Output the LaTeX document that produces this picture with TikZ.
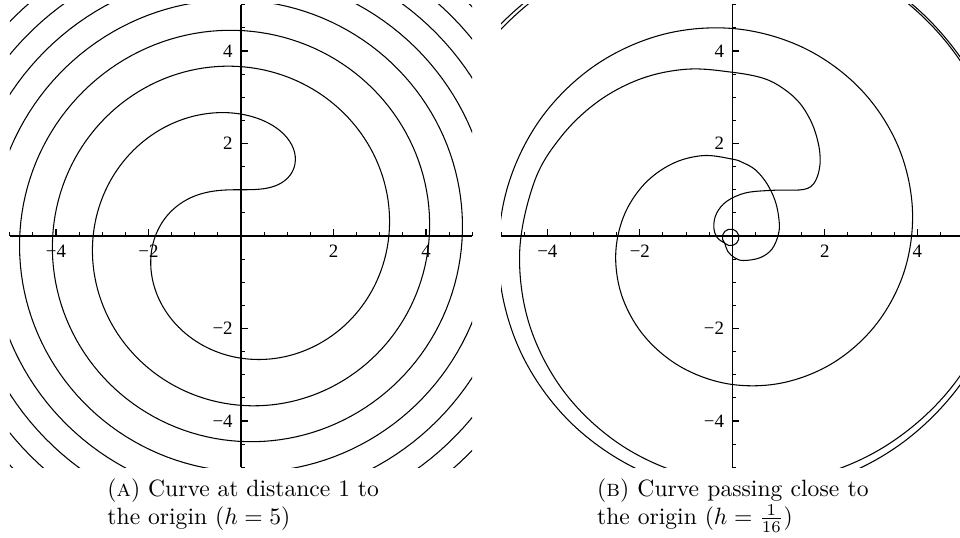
\documentclass[tikz,border=0pt]{standalone}
\usepackage{tikz}
\usepackage{fontspec}
\newfontfamily\tickfont{Liberation Serif}
\ExplSyntaxOn
\fp_new:N \l_sp_x_fp
\fp_new:N \l_sp_y_fp
\fp_new:N \l_sp_mx_fp
\fp_new:N \l_sp_my_fp
\fp_new:N \l_sp_h_fp
\fp_new:N \l_sp_p_fp
\fp_new:N \l_sp_rr_fp
\tl_new:N \l_sp_path_tl
\cs_new_protected:Npn \sp_run:nn #1 #2
  {
    \fp_set:Nn \l_sp_x_fp {0}
    \fp_set:Nn \l_sp_y_fp {1}
    \fp_set:Nn \l_sp_rr_fp {1}
    \tl_set:Nn \l_sp_path_tl { (0,1) }
    \bool_do_while:nn { \fp_compare_p:nNn \l_sp_rr_fp < {52} }
      {
        \fp_set:Nn \l_sp_h_fp { #1 * min(0.25, max(0.04, 0.04*sqrt(\l_sp_rr_fp))) }
        \fp_set:Nn \l_sp_p_fp { (\l_sp_rr_fp - 1)/2 }
        \fp_set:Nn \l_sp_mx_fp { \l_sp_x_fp + 0.5*\l_sp_h_fp*cos(\l_sp_p_fp) }
        \fp_set:Nn \l_sp_my_fp { \l_sp_y_fp + 0.5*\l_sp_h_fp*sin(\l_sp_p_fp) }
        \fp_set:Nn \l_sp_p_fp { (\l_sp_mx_fp^2 + \l_sp_my_fp^2 - 1)/2 }
        \fp_add:Nn \l_sp_x_fp { \l_sp_h_fp*cos(\l_sp_p_fp) }
        \fp_add:Nn \l_sp_y_fp { \l_sp_h_fp*sin(\l_sp_p_fp) }
        \fp_set:Nn \l_sp_rr_fp { \l_sp_x_fp^2 + \l_sp_y_fp^2 }
        \tl_put_right:Nx \l_sp_path_tl
          { (\fp_eval:n {round(\l_sp_x_fp,4)},\fp_eval:n {round(\l_sp_y_fp,4)}) }
      }
    \tl_gclear_new:c { g_sp_#2_tl }
    \tl_gset_eq:cN { g_sp_#2_tl } \l_sp_path_tl
  }
\cs_new_protected:Npn \sp_draw:n #1
  {
    \use:x { \exp_not:N \draw [curve] ~ plot ~ coordinates ~ { \exp_not:v { g_sp_#1_tl } } ; }
  }
\NewDocumentCommand{\SpiralRun}{mm}{ \sp_run:nn {#1} {#2} }
\NewDocumentCommand{\SpiralDraw}{m}{ \sp_draw:n {#1} }
\ExplSyntaxOff
\SpiralRun{1}{A}
\SpiralRun{-1}{B}

\tikzset{
  curve/.style={line width=0.45pt, line join=round},
  axis/.style={line width=0.45pt},
  ticklab/.style={inner sep=0pt, font=\tickfont\fontsize{8}{9.6}\selectfont},
  captext/.style={inner sep=0pt, text width=115pt, align=justify, anchor=north west,
    font=\fontsize{10}{12}\selectfont}
}
\newcommand\PlotAxes[1]{%
  \draw[axis] (-5,0) -- (5,0);
  \draw[axis] (0,-5) -- (0,5);
  \foreach \i in {-10,...,10}{
    \pgfmathtruncatemacro\m{mod(abs(\i),4)==0 ? 1 : 0}
    \ifnum\m=1 \def\len{0.145}\else\def\len{0.08}\fi
    \draw[axis] (\i/2,0) -- ++(0,\len);
    \draw[axis] (0,\i/2) -- ++(\len,0);
  }
  \foreach \v/\t/\k in {-4/−4/1,-2/−2/2,2/2/3,4/4/4}{
    \node[ticklab, anchor=north] (#1x\k) at (\v,-0.195) {\t};
    \node[ticklab, anchor=east] (#1y\k) at (-0.17,\v) {\t};
  }
}
\begin{document}
\begin{tikzpicture}[x=0.4237pt,y=0.4237pt]
\useasboundingbox (0,0) rectangle (960,538);
% ---------- left plot ----------
\begin{scope}[shift={(241,302)}, x=19.596pt, y=19.596pt]
  \begin{scope}
    \clip (-5,-5) rectangle (5,5);
    \SpiralDraw{A}
    \SpiralDraw{B}
  \end{scope}
  \PlotAxes{L}
\end{scope}
% ---------- right plot ----------
\begin{scope}[shift={(732.3,302)}, x=19.596pt, y=19.596pt]
  \begin{scope}
    \clip (-5,-5) rectangle (5,5);
    \draw[curve] plot[smooth, tension=0.6] coordinates {
      (545:6.882) (525:6.813) (505:6.738) (485:6.656) (465:6.567) (445:6.472)
      (425:6.369) (405:6.260) (385:6.145) (365:6.022) (345:5.893) (325:5.757)
      (305:5.614) (285:5.465) (265:5.309) (245:5.146) (225:4.976) (205:4.800)
      (185:4.617) (165:4.44) (150:4.28) (135:4.11) (120:3.93) (105:3.735) (90:3.54)
      (0.67,3.41) (1.10,3.19) (1.46,2.87) (1.72,2.44) (1.86,2.00) (1.90,1.64)
      (1.86,1.35) (1.76,1.13) (1.63,1.03) (1.45,0.995) (1.20,0.99) (0.81,0.985)
      (0.28,0.93) (-0.12,0.75) (-0.34,0.49) (-0.40,0.20) (-0.33,-0.03)
      (-0.163,-0.156) (-0.083,-0.203) (0.011,-0.203) (0.091,-0.156) (0.138,-0.076)
      (0.138,0.018) (0.091,0.098) (0.011,0.145) (-0.083,0.145) (-0.163,0.098)
      (-0.210,0.018) (-0.210,-0.076) (-0.163,-0.156)
      (-0.10,-0.33) (0.05,-0.47) (0.24,-0.53) (0.60,-0.47) (0.86,-0.28) (1.00,0.05)
      (1.01,0.35) (0.93,0.75) (0.75,1.13) (0.50,1.43) (0.22,1.59)
      (90:1.662) (110:1.850) (130:2.034) (150:2.213) (170:2.389) (190:2.561)
      (210:2.729) (230:2.893) (250:3.053) (270:3.211) (290:3.364) (310:3.515)
      (330:3.662) (350:3.807) (370:3.948) (390:4.087) (410:4.223) (430:4.356)
      (450:4.487) (470:4.615) (490:4.741) (510:4.866) (530:4.987) (550:5.108)
      (570:5.226) (590:5.342) (610:5.457) (630:5.571) (650:5.683) (670:5.793)
      (690:5.903) (710:6.011) (730:6.119) (750:6.225) (770:6.331) (790:6.437)
      (810:6.542) (830:6.646) (850:6.750) (870:6.854) (890:6.958) (910:7.062)
      (930:7.166) (950:7.270)};
  \end{scope}
  \PlotAxes{R}
\end{scope}
% ---------- captions ----------
\node[captext] (capA) at (107,60) {(\textsc{a}) Curve at distance 1 to\linebreak the origin ($h=5$)};
\node[captext] (capB) at (596.7,60) {(\textsc{b}) Curve passing close to\linebreak the origin ($h=\frac{1}{16}$)};
\end{tikzpicture}
\end{document}
